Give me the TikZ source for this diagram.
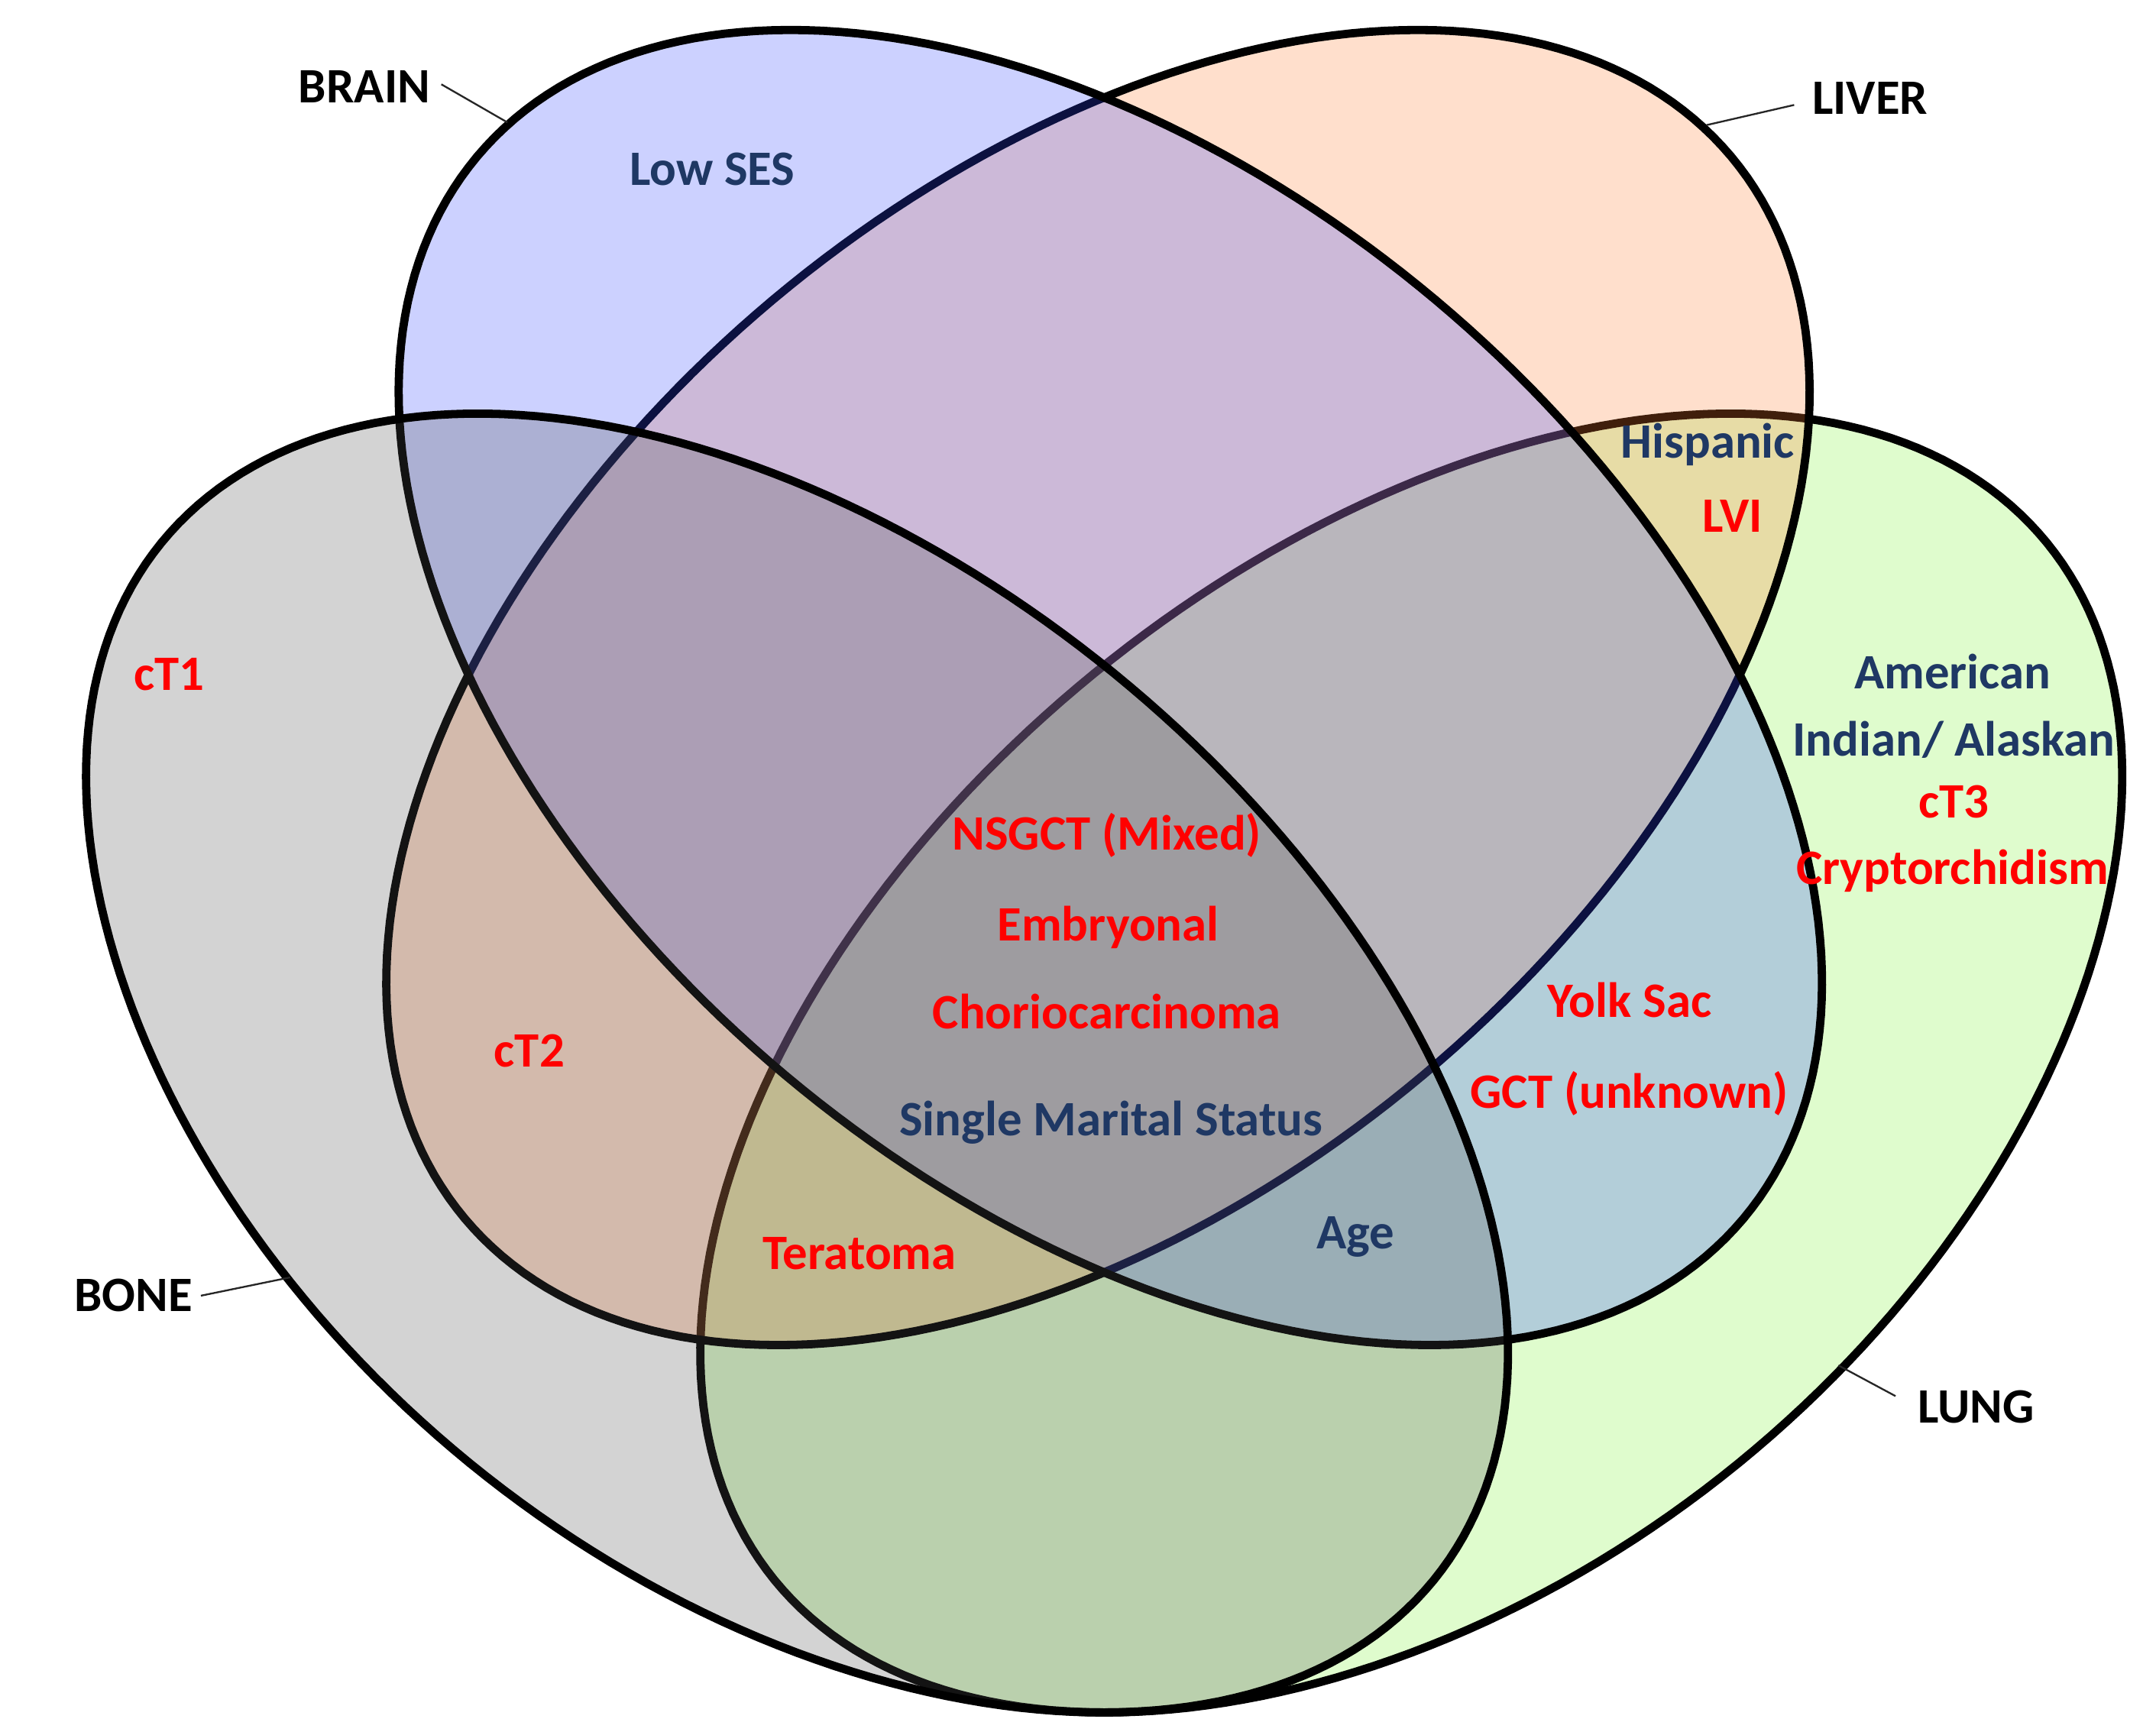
\documentclass[tikz,border=0pt]{standalone}
\usepackage{fontspec}
\setmainfont{Carlito}
\definecolor{lungc}{RGB}{127,243,55}
\definecolor{liverc}{RGB}{255,127,51}
\definecolor{brainc}{RGB}{51,71,255}
\definecolor{bonec}{RGB}{79,79,79}
\definecolor{txtblue}{RGB}{31,56,100}
\definecolor{txtred}{RGB}{255,0,0}
\begin{document}
\begin{tikzpicture}[x=1pt,y=-1pt,
  vset/.style={line width=6pt, draw=black, fill opacity=0.25, line join=round},
  lab/.style={font=\fontsize{36}{43}\selectfont\bfseries, inner sep=0pt, anchor=base},
  blk/.style={lab, text=black},
  redt/.style={lab, text=txtred},
  bluet/.style={lab, text=txtblue},
  ptr/.style={line width=1.3pt, draw=black!85}]
\useasboundingbox (0,0) rectangle (1568,1250);
% LUNG
\path[vset, fill=lungc] plot[domain=0:360, samples=241, variable=\t]
 ({1026-462.6*cos(\t)+230.2*(1+0.035*max(sin(\t),0)^2)*sin(\t)},
  {772+377.3*cos(\t)+282.3*(1+0.035*max(sin(\t),0)^2)*sin(\t)}) -- cycle;
% LIVER
\path[vset, fill=liverc] plot[domain=0:360, samples=241, variable=\t]
 ({798.5-460.4*cos(\t)+236.5*sin(\t)}, {500+386.3*cos(\t)+281.9*sin(\t)}) -- cycle;
% BRAIN
\path[vset, fill=brainc] plot[domain=0:360, samples=241, variable=\t]
 ({807.5+460.4*cos(\t)-236.5*sin(\t)}, {500+386.3*cos(\t)+281.9*sin(\t)}) -- cycle;
% BONE
\path[vset, fill=bonec] plot[domain=0:360, samples=241, variable=\t]
 ({580+462.6*cos(\t)-230.2*(1+0.035*max(sin(\t),0)^2)*sin(\t)},
  {772+377.3*cos(\t)+282.3*(1+0.035*max(sin(\t),0)^2)*sin(\t)}) -- cycle;

% set labels and pointers
\coordinate (brainpt) at (369,89);
\coordinate (liverpt) at (1241,91);
\coordinate (bonept) at (211,929);
\coordinate (lungpt) at (1337,993);
\node[blk] (brainlab) at (265,75) {BRAIN};
\node[blk] (liverlab) at (1360,83) {LIVER};
\node[blk] (bonelab) at (97,954) {BONE};
\node[blk] (lunglab) at (1437,1035) {LUNG};
\draw[ptr] ([xshift=8pt,yshift=2pt]brainlab.east) -- (brainpt);
\draw[ptr] ([xshift=-13pt,yshift=-5pt]liverlab.west) -- (liverpt);
\draw[ptr] ([xshift=6pt]bonelab.east) -- (bonept);
\draw[ptr] ([xshift=-16pt,yshift=8pt]lunglab.west) -- (lungpt);

% region texts
\node[bluet] (lowses) at (518,135) {Low SES};
\node[bluet] (hispanic) at (1242,333) {Hispanic};
\node[redt] (lvi) at (1260,387) {LVI};
\node[redt] (ct1) at (123,502) {cT1};
\node[bluet] (american) at (1420,501) {American};
\node[bluet] (indian) at (1421,550) {Indian/ Alaskan};
\node[redt] (ct3) at (1421,595) {cT3};
\node[redt] (crypt) at (1420,643) {Cryptorchidism};
\node[redt] (nsgct) at (805,618) {NSGCT (Mixed)};
\node[redt] (embryo) at (806,684) {Embryonal};
\node[redt] (chorio) at (805,748) {Choriocarcinoma};
\node[redt] (ct2) at (385,776) {cT2};
\node[redt] (yolk) at (1185,740) {Yolk Sac};
\node[redt] (gct) at (1185,806) {GCT (unknown)};
\node[bluet] (single) at (808,826) {Single Marital Status};
\node[redt] (terat) at (625,923) {Teratoma};
\node[bluet] (age) at (986,908) {Age};
\end{tikzpicture}
\end{document}
